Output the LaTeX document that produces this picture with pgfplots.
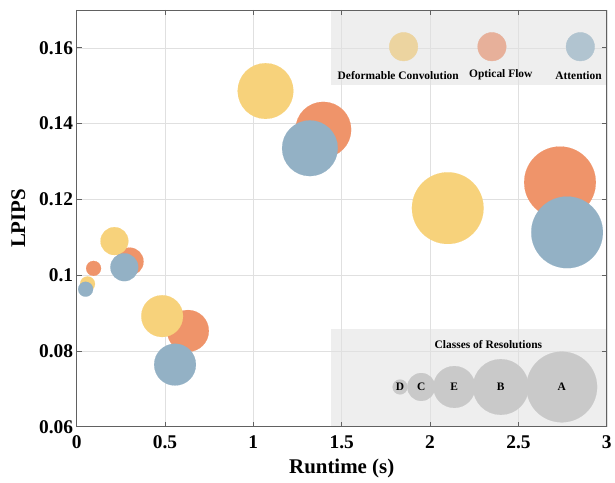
\documentclass[border=0pt]{standalone}
\usepackage{pgfplots}
\pgfplotsset{compat=1.18}
\usepackage{pgfplotstable}
\usepackage{fontspec}
\setmainfont{Liberation Serif}
\definecolor{cY}{HTML}{F7D27B}
\definecolor{cO}{HTML}{EF946A}
\definecolor{cB}{HTML}{93B1C5}
\definecolor{lY}{HTML}{ECD4A0}
\definecolor{lO}{HTML}{E7B09A}
\definecolor{lB}{HTML}{B1C4D0}
\definecolor{boxg}{HTML}{EEEEEE}
\definecolor{resg}{HTML}{C9C9C9}

% x y r(pt)
\pgfplotstableread{
x y r
0.096 0.1018 7.5
0.300 0.1036 14
0.630 0.0853 21
1.396 0.1384 28
2.735 0.1245 36
}\optical
\pgfplotstableread{
x y r
0.062 0.0977 7.5
0.214 0.1090 14
0.484 0.0892 21
1.069 0.1486 28
2.100 0.1177 36
}\deform
\pgfplotstableread{
x y r
0.051 0.0963 7.5
0.270 0.1021 14
0.557 0.0764 21
1.320 0.1335 28
2.775 0.1113 36
}\attn
\pgfplotstableread{
x y r l
1.83 0.0705 7.5 D
1.95 0.0705 14 C
2.137 0.0705 21 E
2.40 0.0705 28 B
2.745 0.0705 35.5 A
}\classes

\pgfplotsset{bubble/.style={scatter, only marks, mark=*,
  visualization depends on={\thisrow{r} \as \rr},
  scatter/@pre marker code/.code={\scope[mark size=\rr, fill=#1, draw=#1, line width=0.1pt]},
  scatter/@post marker code/.code={\endscope}}}

\begin{document}
\begin{tikzpicture}
\begin{axis}[
  set layers=standard,
  scale only axis, width=533pt, height=419pt,
  xmin=0, xmax=3, ymin=0.06, ymax=0.17,
  xtick={0,0.5,1,1.5,2,2.5,3},
  ytick={0.06,0.08,0.1,0.12,0.14,0.16},
  grid=major,
  major grid style={draw=black!12, line width=0.6pt},
  axis line style={draw=black!62, line width=0.8pt},
  tick style={draw=black!62, line width=0.8pt},
  major tick length=5pt,
  tick align=inside,
  /pgf/number format/assume math mode=true,
  ticklabel style={font=\fontsize{19.5}{22}\selectfont\bfseries},
  yticklabel style={/pgf/number format/.cd, fixed, precision=2},
  xticklabel style={yshift=-5pt, /pgf/number format/.cd, fixed, precision=1},
  label style={font=\fontsize{21}{24}\selectfont\bfseries},
  xlabel={Runtime (s)}, ylabel={LPIPS},
  xlabel style={yshift=-4pt},
  ylabel style={yshift=7pt},
  clip=false,
]
% legend background boxes
\addplot[fill=boxg, draw=none, on layer=axis background] coordinates {(1.44,0.1502) (3,0.1502) (3,0.17) (1.44,0.17)} -- cycle;
\addplot[fill=boxg, draw=none, on layer=axis background] coordinates {(1.44,0.06) (3,0.06) (3,0.0857) (1.44,0.0857)} -- cycle;

% data bubbles
\addplot[bubble=cO] table {\optical};
\addplot[bubble=cY] table {\deform};
\addplot[bubble=cB] table {\attn};

% method legend
\addplot[only marks, mark=*, mark size=14.3, color=lY] coordinates {(1.85,0.1603)};
\addplot[only marks, mark=*, mark size=14.3, color=lO] coordinates {(2.35,0.1603)};
\addplot[only marks, mark=*, mark size=14.3, color=lB] coordinates {(2.85,0.1603)};
\node[font=\fontsize{11.5}{13}\selectfont\bfseries] at (axis cs:1.82,0.1528) {Deformable Convolution};
\node[font=\fontsize{11.5}{13}\selectfont\bfseries] at (axis cs:2.40,0.1528) {Optical Flow};
\node[font=\fontsize{11.5}{13}\selectfont\bfseries] at (axis cs:2.84,0.1528) {Attention};

% resolution legend
\addplot[bubble=resg] table {\classes};
\addplot[only marks, mark=none, point meta=explicit symbolic, nodes near coords,
  every node near coord/.style={anchor=center, text=black, font=\fontsize{11.5}{13}\selectfont\bfseries}]
  table[x=x, y=y, meta=l] {\classes};
\node[font=\fontsize{11.5}{13}\selectfont\bfseries] at (axis cs:2.33,0.0817) {Classes of Resolutions};
\end{axis}
\path ([shift={(-77pt,-56pt)}]current axis.south west) rectangle ([shift={(538pt,429pt)}]current axis.south west);
\end{tikzpicture}
\end{document}
